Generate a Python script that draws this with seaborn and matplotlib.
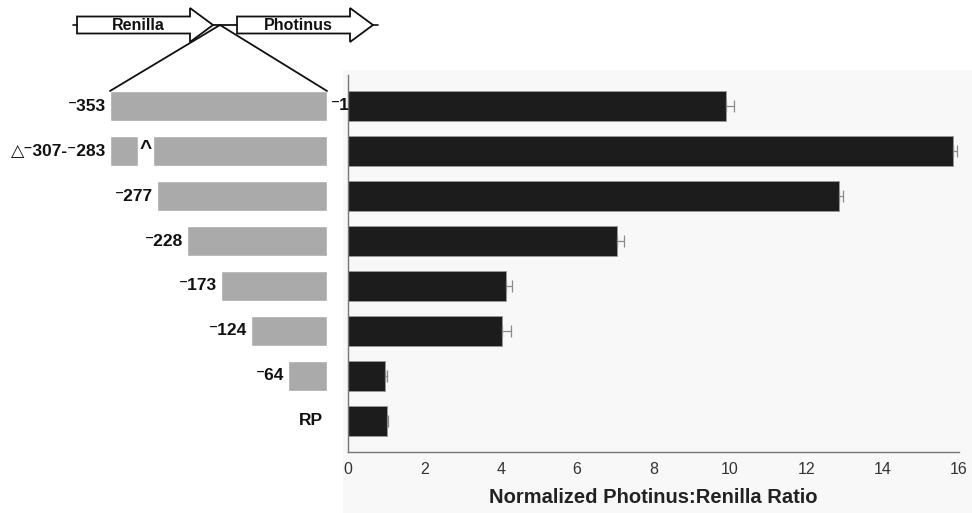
import matplotlib
matplotlib.use("Agg")
import matplotlib.pyplot as plt
from matplotlib.patches import Polygon, Rectangle
import seaborn as sns
import pandas as pd

# Promoter deletion constructs (5' end position relative to the start site, ending at -1)
labels = ["⁻353", "△⁻307-⁻283", "⁻277", "⁻228", "⁻173", "⁻124", "⁻64", "RP"]
starts = [-353, -353, -277, -228, -173, -124, -64, None]
end_pos = -1
deleted = (-307, -283)          # internal deletion in the second construct
deleted_row = 1

# Normalized Photinus:Renilla luciferase ratios and their errors
ratio = [9.9, 15.85, 12.85, 7.05, 4.15, 4.02, 0.97, 1.03]
err = [0.22, 0.10, 0.12, 0.17, 0.15, 0.25, 0.06, 0.03]

xticks = [0, 2, 4, 6, 8, 10, 12, 14, 16]
xlabel = "Normalized Photinus:Renilla Ratio"

sns.set_style("white")
plt.rcParams["font.family"] = ["Liberation Sans", "DejaVu Sans"]

W, H = 972, 513
fig = plt.figure(figsize=(W / 100, H / 100), dpi=100)

# pale panel behind the bar chart
fig.patches.append(Rectangle((343 / W, 0), 1 - 343 / W, 1 - 70 / H,
                             transform=fig.transFigure, facecolor="#f8f8f8",
                             edgecolor="none", zorder=-10))

bottom, top = 1 - 452 / H, 1 - 75 / H
ylim = (7.69, -0.69)

# ---- bar chart of the luciferase ratios ----
ax = fig.add_axes([348 / W, bottom, (959 - 348) / W, top - bottom])
ax.set_facecolor("none")
df = pd.DataFrame({"construct": labels, "ratio": ratio})
sns.barplot(data=df, x="ratio", y="construct", orient="h", color="#1c1c1c",
            width=0.667, saturation=1, edgecolor="#9a9a9a", linewidth=0.6, ax=ax)
ax.errorbar(ratio, range(len(ratio)), xerr=[[0] * len(err), err], fmt="none",
            ecolor="#8a8a8a", elinewidth=0.9, capsize=4, capthick=0.9, zorder=3)
ax.set_xlim(0, 16)
ax.set_ylim(*ylim)
ax.set_xticks(xticks)
ax.set_xticklabels([str(t) for t in xticks], fontsize=11.5, color="#333333")
ax.set_yticks([])
ax.set_ylabel("")
ax.set_xlabel(xlabel, fontsize=14.5, fontweight="bold", color="#222222", labelpad=8)
ax.tick_params(axis="x", direction="out", length=5, width=0.8, color="#888888", pad=2)
for side in ("top", "right"):
    ax.spines[side].set_visible(False)
for side in ("left", "bottom"):
    ax.spines[side].set_color("#777777")
    ax.spines[side].set_linewidth(1.0)

# ---- promoter construct diagram ----
px_per_bp = 0.6165
lx0 = (0 - 327) / px_per_bp + end_pos
lx1 = (343 - 327) / px_per_bp + end_pos
axl = fig.add_axes([0, bottom, 343 / W, top - bottom])
axl.set_xlim(lx0, lx1)
axl.set_ylim(*ylim)
axl.axis("off")
gray = "#aaaaaa"
gap = 4 / px_per_bp
for i, (lab, s) in enumerate(zip(labels, starts)):
    if s is None:
        axl.text(end_pos - gap, i, lab, ha="right", va="center",
                 fontsize=12.5, fontweight="bold", color="#111111")
        continue
    if i == deleted_row:
        axl.barh(i, deleted[0] - s, left=s, height=0.667, color=gray)
        axl.barh(i, end_pos - deleted[1], left=deleted[1], height=0.667, color=gray)
        axl.text((deleted[0] + deleted[1]) / 2, i - 0.05, "^", ha="center", va="center",
                 fontsize=15, fontweight="bold", color="#111111")
    else:
        axl.barh(i, end_pos - s, left=s, height=0.667, color=gray)
    axl.text(s - gap, i, lab, ha="right", va="center",
             fontsize=12.5, fontweight="bold", color="#111111")

# ---- Renilla / Photinus reporter schematic ----
ov = fig.add_axes([0, 0, 1, 1])
ov.set_xlim(0, W)
ov.set_ylim(H, 0)
ov.axis("off")
ov.set_zorder(5)
ov.text(331, 106, "⁻1", ha="left", va="center",
        fontsize=12.5, fontweight="bold", color="#111111")


def gene_arrow(x0, xb, xt, yc, hb, hh):
    pts = [(x0, yc - hb), (xb, yc - hb), (xb, yc - hh), (xt, yc),
           (xb, yc + hh), (xb, yc + hb), (x0, yc + hb)]
    ov.add_patch(Polygon(pts, closed=True, facecolor="white", edgecolor="#111111",
                         linewidth=1.3, joinstyle="miter"))


yc = 25
gene_arrow(77, 190, 213, yc, 8.5, 17)
gene_arrow(237, 350, 373, yc, 8.5, 17)
ov.plot([73, 77], [yc, yc], color="#111111", lw=1.2)
ov.plot([213, 237], [yc, yc], color="#111111", lw=1.3)
ov.plot([373, 378], [yc, yc], color="#111111", lw=1.2)
ov.text(138, yc, "Renilla", ha="center", va="center", fontsize=11.5,
        fontweight="bold", color="#111111")
ov.text(298, yc, "Photinus", ha="center", va="center", fontsize=11.5,
        fontweight="bold", color="#111111")
# expansion lines down to the promoter region
ov.plot([220, 110], [yc, 91], color="#111111", lw=1.3)
ov.plot([220, 327], [yc, 91], color="#111111", lw=1.3)

fig.savefig("out.png", dpi=100)
